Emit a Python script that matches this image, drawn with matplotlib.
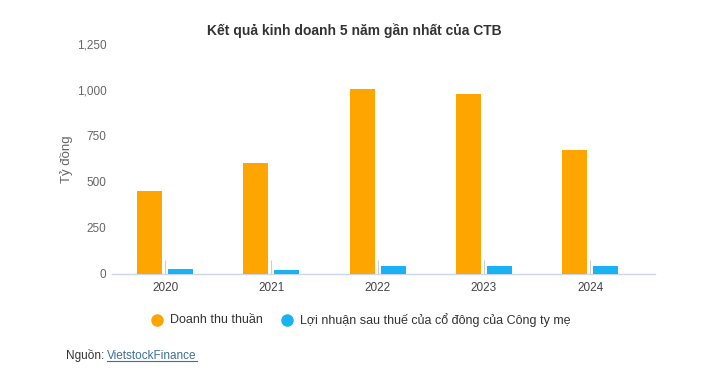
import matplotlib.pyplot as plt
import numpy as np

plt.rcParams['font.family'] = ['Liberation Sans', 'DejaVu Sans']

years = ["2020", "2021", "2022", "2023", "2024"]
doanh_thu = [452, 600, 1005, 978, 670]
loi_nhuan = [25, 19, 41, 40, 40]
y_ticks = [0, 250, 500, 750, 1000, 1250]
y_tick_labels = ["0", "250", "500", "750", "1,000", "1,250"]

ORANGE = "#FFA500"
BLUE = "#19B3F4"

fig = plt.figure(figsize=(7.11, 3.77), dpi=100)
ax = fig.add_axes([0.1575, 0.2745, 0.7637, 0.6088])

x = np.arange(len(years))
w = 0.235
off = 0.146
ax.bar(x - off, doanh_thu, width=w, color=ORANGE, zorder=3)
ax.bar(x + off, loi_nhuan, width=w, color=BLUE, zorder=3)

ax.set_xlim(-0.5, 4.61)
ax.set_ylim(0, 1250)
ax.set_yticks(y_ticks)
ax.set_yticklabels(y_tick_labels)
ax.set_xticks(x)
ax.set_xticklabels(years)

for s in ["top", "right", "left"]:
    ax.spines[s].set_visible(False)
ax.spines["bottom"].set_color("#ccd6eb")
ax.spines["bottom"].set_linewidth(1)

ax.tick_params(axis="y", length=0, pad=4, labelsize=8.5, labelcolor="#666666")
ax.tick_params(axis="x", direction="in", length=10, color="#cccccc",
               labelsize=8.5, labelcolor="#444444", pad=6)

ax.set_ylabel("Tỷ đồng", fontsize=9.5, color="#666666", labelpad=3)

fig.text(0.499, 0.92, "Kết quả kinh doanh 5 năm gần nhất của CTB",
         ha="center", va="center", fontsize=10, fontweight="bold", color="#333333")

# legend
ly = 1 - 320 / 377
fig.lines.append(plt.Line2D([157 / 711], [ly], marker="o", markersize=8,
                            color=ORANGE, transform=fig.transFigure, linestyle=""))
fig.text(170 / 711, ly, "Doanh thu thuần", ha="left", va="center",
         fontsize=9, color="#333333")
fig.lines.append(plt.Line2D([287 / 711], [ly], marker="o", markersize=8,
                            color=BLUE, transform=fig.transFigure, linestyle=""))
fig.text(300 / 711, ly, "Lợi nhuận sau thuế của cổ đông của Công ty mẹ", ha="left",
         va="center", fontsize=9, color="#333333")

# source
sy = 1 - 356 / 377
t1 = fig.text(66 / 711, sy, "Nguồn:", ha="left", va="center", fontsize=8.5, color="#333333")
fig.canvas.draw()
bb = t1.get_window_extent()
t2 = fig.text((bb.x1 + 3) / 711, sy, "VietstockFinance", ha="left", va="center", fontsize=8.5,
              color="#3e6f96")
fig.canvas.draw()
bb2 = t2.get_window_extent()
fig.lines.append(plt.Line2D([bb2.x0 / 711, bb2.x1 / 711], [(bb2.y0 + 1.5) / 377] * 2,
                            color="#3e6f96", linewidth=0.8, transform=fig.transFigure))

fig.savefig("out.png", dpi=100)
